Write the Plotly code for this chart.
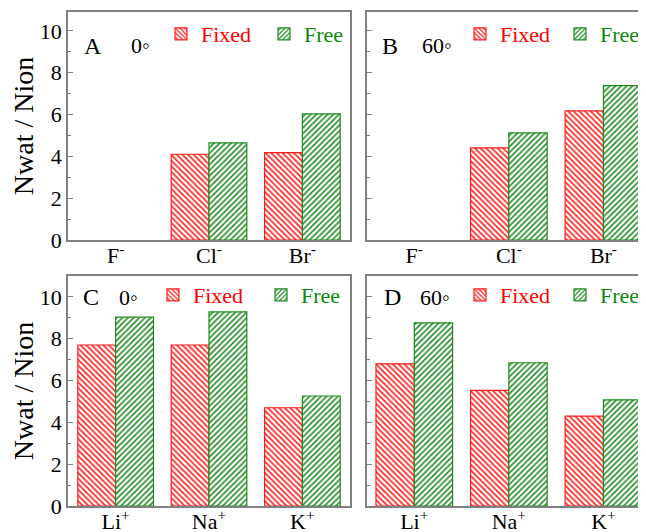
import plotly.graph_objects as go

anions = ["F<sup>-</sup>", "Cl<sup>-</sup>", "Br<sup>-</sup>"]
cations = ["Li<sup>+</sup>", "Na<sup>+</sup>", "K<sup>+</sup>"]

# Panel A (anions, 0 deg)
a_fixed = [None, 4.10, 4.18]
a_free = [None, 4.64, 6.03]
# Panel B (anions, 60 deg)
b_fixed = [None, 4.40, 6.17]
b_free = [None, 5.12, 7.38]
# Panel C (cations, 0 deg)
c_fixed = [7.70, 7.70, 4.70]
c_free = [9.03, 9.28, 5.26]
# Panel D (cations, 60 deg)
d_fixed = [6.80, 5.53, 4.30]
d_free = [8.76, 6.85, 5.08]

panel_letters = ["A", "B", "C", "D"]
panel_angles = ["0◦", "60◦", "0◦", "60◦"]

RED = "#ff1a1a"
GREEN = "#1f8a1f"
TXT_GREEN = "#0a8a0a"
AXC = "#808080"
FONT = "Liberation Serif, Times New Roman, Tinos, DejaVu Serif, serif"

# page has an 8px body margin; figure fills the rest of the 646x532 window
OFF = 8
W, H = 646 - OFF, 532 - OFF

def px(x):
    return (x - OFF) / W

def py(y):
    return 1 - (y - OFF) / H

fig = go.Figure()

panels = [
    (anions, a_fixed, a_free, "x", "y", "legend"),
    (anions, b_fixed, b_free, "x2", "y2", "legend2"),
    (cations, c_fixed, c_free, "x3", "y3", "legend3"),
    (cations, d_fixed, d_free, "x4", "y4", "legend4"),
]

for cats, fx, fr, xa, ya, lg in panels:
    fig.add_trace(go.Bar(
        x=cats, y=fx, xaxis=xa, yaxis=ya, legend=lg,
        name="<span style='color:#ff0000'>Fixed</span>",
        marker=dict(color="white", line=dict(color=RED, width=1.2),
                    pattern=dict(shape="\\", fgcolor=RED, bgcolor="white",
                                 size=4, solidity=0.38, fillmode="replace")),
    ))
    fig.add_trace(go.Bar(
        x=cats, y=fr, xaxis=xa, yaxis=ya, legend=lg,
        name="<span style='color:%s'>Free</span>" % TXT_GREEN,
        marker=dict(color="white", line=dict(color=GREEN, width=1.2),
                    pattern=dict(shape="/", fgcolor=GREEN, bgcolor="white",
                                 size=4, solidity=0.38, fillmode="replace")),
    ))

xdom_left = [px(68), px(350)]
xdom_right = [px(367), 1.0]
ydom_top = [py(240), py(12)]
ydom_bot = [py(506), py(276)]

def xaxis(dom, rng, anchor):
    return dict(domain=dom, range=rng, anchor=anchor, showline=True, mirror=True,
                linecolor=AXC, linewidth=1.5, ticks="", showgrid=False,
                zeroline=False, automargin=False, ticklabelstandoff=-5,
                tickfont=dict(family=FONT, size=22, color="black"))

def yaxis(dom, rng, anchor, labels, title):
    d = dict(domain=dom, range=rng, anchor=anchor, showline=True, mirror=True,
             linecolor=AXC, linewidth=1.5, ticks="inside", ticklen=5,
             tickcolor=AXC, tickwidth=1.2, dtick=2, tick0=0, showgrid=False,
             zeroline=False, showticklabels=labels, automargin=False,
             tickfont=dict(family=FONT, size=22, color="black"),
             minor=dict(ticks="inside", ticklen=3, tickcolor=AXC, dtick=1, tick0=0,
                        showgrid=False))
    if title:
        d["title"] = dict(text="Nwat / Nion", font=dict(family=FONT, size=28, color="black"),
                          standoff=2)
    return d

fig.update_layout(
    width=W, height=H,
    margin=dict(l=0, r=0, t=0, b=0, autoexpand=False),
    paper_bgcolor="white", plot_bgcolor="white",
    barmode="group", bargap=0.19, bargroupgap=0,
    font=dict(family=FONT, size=22, color="black"),
    xaxis=xaxis(xdom_left, [-0.51, 2.51], "y"),
    yaxis=yaxis(ydom_top, [0, 10.9], "x", True, True),
    xaxis2=xaxis(xdom_right, [-0.5, 2.45], "y2"),
    yaxis2=yaxis(ydom_top, [0, 10.9], "x2", False, False),
    xaxis3=xaxis(xdom_left, [-0.51, 2.51], "y3"),
    yaxis3=yaxis(ydom_bot, [0, 11], "x3", True, True),
    xaxis4=xaxis(xdom_right, [-0.5, 2.45], "y4"),
    yaxis4=yaxis(ydom_bot, [0, 11], "x4", False, False),
)

# (left x, centre y, entry width) in window pixels
legend_pos = [(161, 34, 58), (460, 34, 55), (153, 295, 63), (460, 295, 55)]
for i, (lx, ly, ew) in enumerate(legend_pos):
    key = "legend" if i == 0 else "legend%d" % (i + 1)
    fig.update_layout(**{key: dict(
        x=px(lx), y=py(ly), xanchor="left", yanchor="middle",
        orientation="h", bgcolor="rgba(0,0,0,0)", borderwidth=0,
        font=dict(family=FONT, size=22), itemwidth=30,
        entrywidth=ew, entrywidthmode="pixels", traceorder="normal",
    )})

label_pos = [(93, 129, 31), (390, 420, 31), (91, 117, 297), (392, 418, 297)]
for i, (lxl, lxa, ly) in enumerate(label_pos):
    fig.add_annotation(x=px(lxl), y=py(ly), xref="paper", yref="paper",
                       text=panel_letters[i], showarrow=False, xanchor="center",
                       font=dict(family=FONT, size=24, color="black"))
    fig.add_annotation(x=px(lxa), y=py(ly), xref="paper", yref="paper",
                       text=panel_angles[i], showarrow=False, xanchor="left",
                       font=dict(family=FONT, size=22, color="black"))

fig.write_html("out.html")
